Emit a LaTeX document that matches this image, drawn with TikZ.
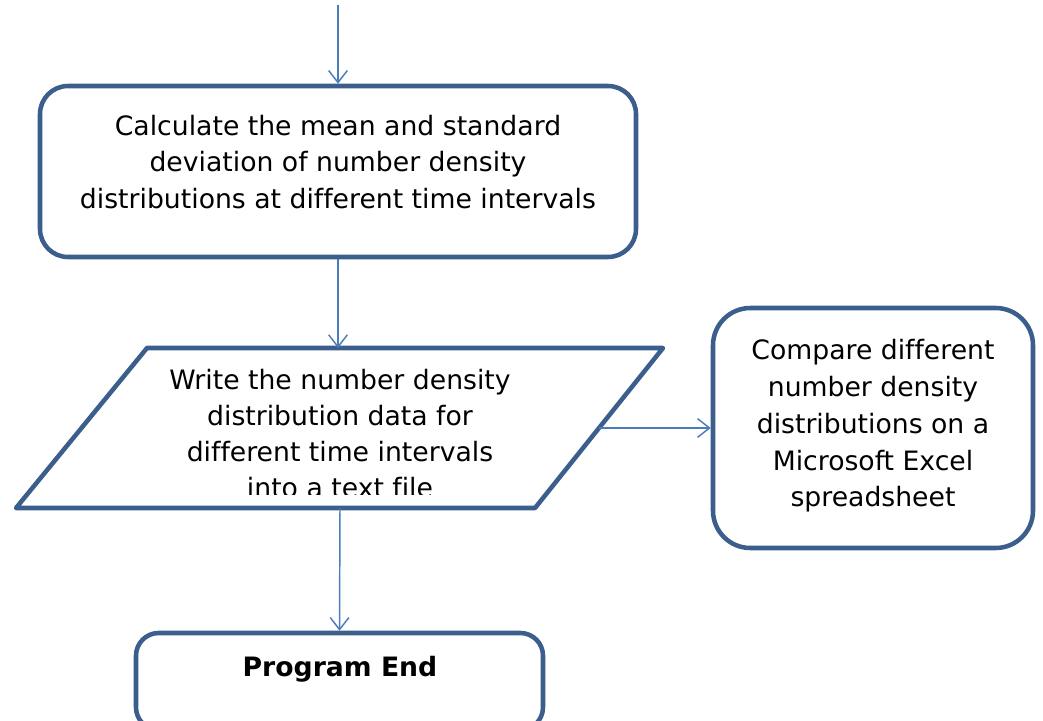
\documentclass[tikz,border=0pt]{standalone}
\usepackage{fontspec}
\setmainfont[Ligatures=NoCommon]{DejaVu Sans}
\usetikzlibrary{arrows.meta}
\definecolor{boxblue}{HTML}{3B5E8D}
\definecolor{arrblue}{HTML}{4A7EBB}
\tikzset{
  box/.style={draw=boxblue, line width=3.4pt, fill=white, align=center, inner sep=0pt},
  flow/.style={draw=arrblue, line width=1.1pt, -{Straight Barb[length=9pt,width=14pt,line width=1.1pt]}},
  txt/.style={align=center, inner sep=0pt, font=\fontsize{20pt}{27.2pt}\selectfont}
}
\begin{document}
\begin{tikzpicture}[x=0.75pt,y=-0.75pt]
\useasboundingbox (0,0) rectangle (1043,721);
\clip (0,0) rectangle (1043,721);
% boxes
\node[box, rounded corners=21pt, minimum width=447pt, minimum height=128.25pt] (calc) at (338,171.5) {};
\node[txt] (calctxt) at (338,162) {Calculate the mean and standard\\deviation of number density\\distributions at different time intervals};
% parallelogram
\coordinate (p1) at (147,348);
\coordinate (p2) at (663,348);
\coordinate (p3) at (535,508);
\coordinate (p4) at (16,508);
\coordinate (ptop) at (338,348);
\coordinate (pbot) at (340,508);
\coordinate (pright) at (599,428);
\draw[boxblue, line width=3.4pt, line join=round, fill=white] (p1) -- (p2) -- (p3) -- (p4) -- cycle;
\begin{scope}
\clip (0,340) rectangle (1043,494.5);
\node[txt] (writetxt) at (340,433.5) {Write the number density\\distribution data for\\different time intervals\\into a text file};
\end{scope}
% compare box
\node[box, rounded corners=28pt, minimum width=240pt, minimum height=180pt] (cmp) at (873,428) {};
\node[txt, font=\fontsize{20pt}{27.6pt}\selectfont] (cmptxt) at (873,426) {Compare different\\number density\\distributions on a\\Microsoft Excel\\spreadsheet};
% end box
\node[box, rounded corners=17pt, minimum width=305.25pt, minimum height=72.75pt] (endbox) at (339.5,681.5) {};
\node[txt, font=\fontsize{20pt}{27.2pt}\selectfont\bfseries] (endtxt) at (340,669) {Program End};
% connectors
\coordinate (start) at (338,5);
\draw[flow] (start) -- (calc.north);
\draw[flow] (calc.south) -- (ptop);
\draw[flow] (pright) -- (cmp.west);
\draw[flow] (pbot) -- (endbox.north);
\end{tikzpicture}
\end{document}
